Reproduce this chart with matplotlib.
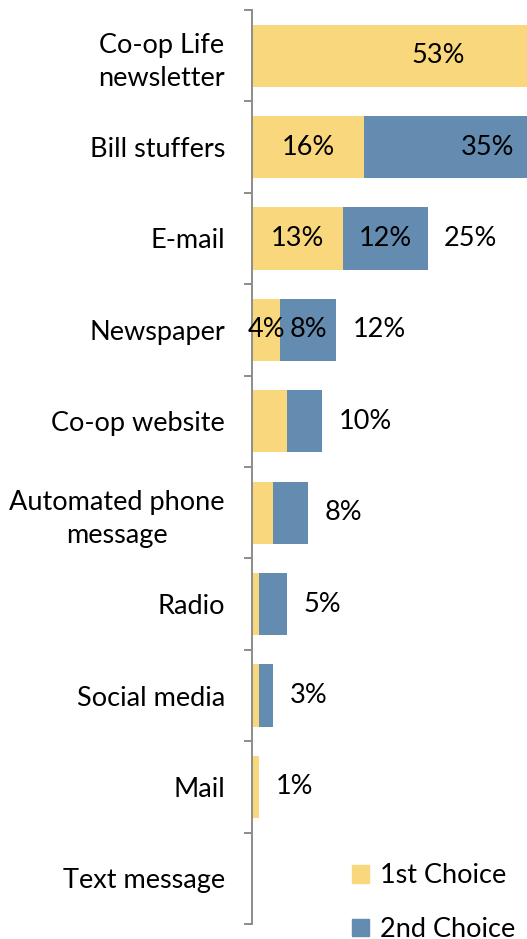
import numpy as np
import matplotlib.pyplot as plt
from matplotlib.patches import Patch

plt.rcParams['font.family'] = ['Lato', 'DejaVu Sans']

# survey answers, top to bottom
channels = ["Co-op Life\nnewsletter", "Bill stuffers", "E-mail", "Newspaper",
            "Co-op website", "Automated phone\nmessage", "Radio", "Social media",
            "Mail", "Text message"]
first_choice = [53, 16, 13, 4, 5, 3, 1, 1, 1, 0]
second_choice = [0, 35, 12, 8, 5, 5, 4, 2, 0, 0]
totals = [53, 51, 25, 12, 10, 8, 5, 3, 1, 0]

# only these segments get a value printed inside
first_labels = ["53%", "16%", "13%", "4%", "", "", "", "", "", ""]
second_labels = ["", "35%", "12%", "8%", "", "", "", "", "", ""]
show_total = [False, False, True, True, True, True, True, True, True, False]

yellow = "#F9D87D"
blue = "#648BB0"
axis_gray = "#8C8C8C"
fs = 19.5

fig = plt.figure(figsize=(5.27, 9.39), dpi=100)
ax = fig.add_axes([252 / 527, 1 - 924 / 939, 1 - 252 / 527, 914 / 939])

y = np.arange(len(channels))
ax.barh(y, first_choice, height=0.68, color=yellow, label="1st Choice")
ax.barh(y, second_choice, left=first_choice, height=0.68, color=blue, label="2nd Choice")

for i in range(len(channels)):
    if first_labels[i]:
        ax.text(first_choice[i] / 2, i, first_labels[i], ha="center", va="center", fontsize=fs)
    if second_labels[i]:
        ax.text(first_choice[i] + second_choice[i] / 2, i, second_labels[i],
                ha="center", va="center", fontsize=fs)
    if show_total[i]:
        ax.annotate(f"{totals[i]}%", (totals[i], i), xytext=(12, 0),
                    textcoords="offset points", ha="left", va="center", fontsize=fs)

ax.set_xlim(0, 275 / 7.02)
ax.set_ylim(len(channels) - 0.5, -0.5)

# tick marks between categories, names at the centres
ax.set_yticks(np.arange(len(channels) + 1) - 0.5)
ax.set_yticklabels([])
ax.set_yticks(y, minor=True)
ax.set_yticklabels(channels, minor=True, fontsize=fs, ha="right",
                   multialignment="center", linespacing=1.4)
ax.tick_params(axis="y", which="major", length=6, width=1.4, color=axis_gray)
ax.tick_params(axis="y", which="minor", length=0, pad=19.5)
ax.set_xticks([])

for side in ["top", "right", "bottom"]:
    ax.spines[side].set_visible(False)
ax.spines["left"].set_color(axis_gray)
ax.spines["left"].set_linewidth(1.4)

handles = [Patch(color=yellow), Patch(color=blue)]
fig.legend(handles, ["1st Choice", "2nd Choice"], loc="upper left",
           bbox_to_anchor=(328 / 527, 1 - 839 / 939), frameon=False, fontsize=fs,
           handlelength=0.63, handleheight=0.63, handletextpad=0.4, labelspacing=1.06)

fig.savefig("out.png", dpi=100)
